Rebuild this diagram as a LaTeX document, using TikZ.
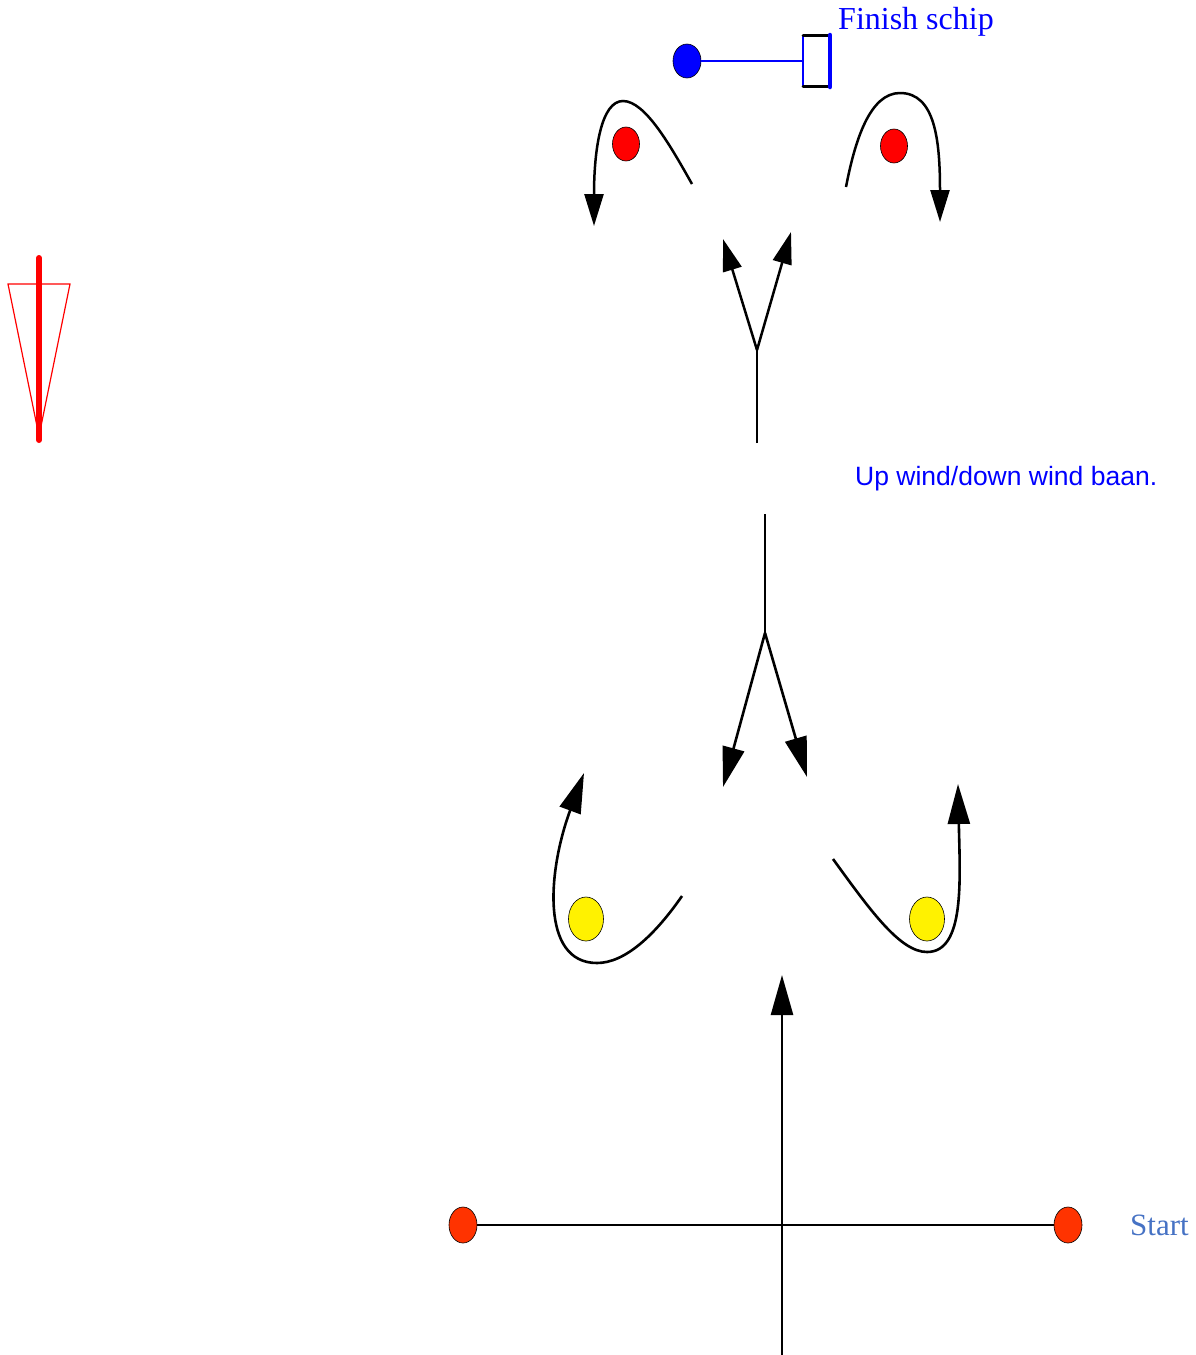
\documentclass[tikz,border=0pt]{standalone}
\usepackage{fontspec}
\setmainfont{Liberation Serif}
\setsansfont{Liberation Sans}
\usetikzlibrary{shapes.geometric,arrows.meta}

\definecolor{startred}{RGB}{255,51,0}
\definecolor{startblue}{RGB}{70,114,196}

\tikzset{
    buoy/.style={ellipse, draw=black, line width=0.6pt, inner sep=0pt,
        minimum width=27pt, minimum height=34pt},
    leg/.style={line width=2.3pt},
    course/.style={line width=2.5pt, -{Triangle[length=32pt,width=19pt]}},
    longcourse/.style={line width=2.6pt, -{Triangle[length=40pt,width=22pt]}},
}

\begin{document}
\begin{tikzpicture}[x=1pt,y=-1pt]
    \useasboundingbox (0,0) rectangle (1196,1355);

    % wind indicator
    \draw[red, line width=1.2pt] (8,284) -- (70,284) -- (39,436) -- cycle;
    \draw[red, line width=6pt, line cap=round] (39,258) -- (39,440);

    % finish ship
    \node[buoy, fill=blue, minimum width=28pt] (pin) at (687,61) {};
    \coordinate (shipw) at (803,61);
    \draw[blue, line width=1.2pt] (pin) -- (shipw);
    \draw[blue, line width=1.5pt] (803,35) -- (803,87);
    \draw[line width=3pt, line cap=round] (803,35) -- (830,35) (803,86) -- (830,86);
    \draw[blue, line width=4.5pt, line cap=round] (830,35) -- (830,87);
    \node[anchor=base west, text=blue, inner sep=0pt,
          font=\fontsize{32}{38}\selectfont] (finish) at (838,29) {Finish schip};

    % top marks
    \node[buoy, fill=red] (topl) at (626,144) {};
    \node[buoy, fill=red] (topr) at (894,146) {};
    \draw[course] (692,184) .. controls (670,145) and (645,101) .. (623,101)
                            .. controls (601,101) and (594,150) .. (594,226);
    \draw[course] (846,187) .. controls (855,140) and (870,93) .. (900,93)
                            .. controls (935,93) and (940,140) .. (940,222);

    % upwind split
    \coordinate (upstem) at (757,443);
    \coordinate (upfork) at (757,350);
    \coordinate (upl) at (723,239);
    \coordinate (upr) at (791,232);
    \draw[leg] (upstem) -- (upfork);
    \draw[course] (upfork) -- (upl);
    \draw[course] (upfork) -- (upr);

    \node[anchor=base west, text=blue, inner sep=0pt,
          font=\sffamily\fontsize{26.5}{32}\selectfont] (baan) at (855,485) {Up wind/down wind baan.};

    % downwind split
    \coordinate (dnstem) at (765,514);
    \coordinate (dnfork) at (765,633);
    \coordinate (dnl) at (723,787);
    \coordinate (dnr) at (807,777);
    \draw[leg] (dnstem) -- (dnfork);
    \draw[longcourse] (dnfork) -- (dnl);
    \draw[longcourse] (dnfork) -- (dnr);

    % bottom marks
    \node[buoy, fill=yellow, minimum width=35pt, minimum height=44pt] (botl) at (586,919) {};
    \node[buoy, fill=yellow, minimum width=35pt, minimum height=44pt] (botr) at (927,919) {};
    \draw[longcourse] (682,896) .. controls (655,935) and (625,963) .. (597,963)
                                .. controls (540,963) and (548,870) .. (584,773);
    \draw[longcourse] (833,859) .. controls (870,910) and (900,952) .. (927,952)
                                .. controls (965,952) and (960,880) .. (958,784);

    % start line
    \node[buoy, fill=startred, minimum width=28pt, minimum height=36pt] (pinl) at (463,1225) {};
    \node[buoy, fill=startred, minimum width=28pt, minimum height=36pt] (pinr) at (1068,1225) {};
    \draw[leg] (pinl) -- (pinr);
    \coordinate (sbot) at (782,1355);
    \coordinate (stop) at (782,975);
    \draw[longcourse] (sbot) -- (stop);
    \node[anchor=base west, text=startblue, inner sep=0pt,
          font=\fontsize{31}{37}\selectfont] (start) at (1130,1235) {Start};
\end{tikzpicture}
\end{document}
